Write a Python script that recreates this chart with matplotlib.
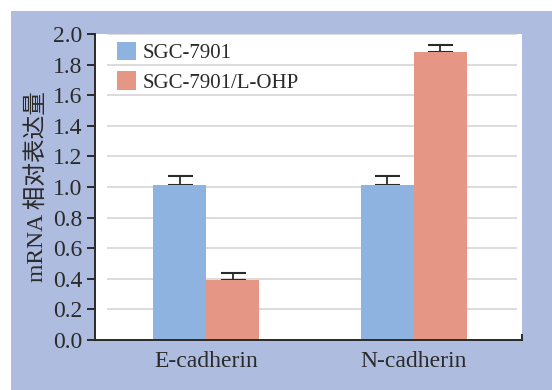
import matplotlib
matplotlib.use('Agg')
import matplotlib.pyplot as plt
import matplotlib.patches as mpatches
import numpy as np

## values
genes = ['E-cadherin', 'N-cadherin']
series = ['SGC-7901', 'SGC-7901/L-OHP']
sgc = [1.01, 1.01]
sgc_err = [0.06, 0.06]
lohp = [0.39, 1.88]
lohp_err = [0.045, 0.05]
yticks = [0.0, 0.2, 0.4, 0.6, 0.8, 1.0, 1.2, 1.4, 1.6, 1.8, 2.0]

blue = '#8EB3E0'
salmon = '#E69685'
panel = '#AEBCDF'
ink = '#2a2a2a'

plt.rcParams['font.family'] = ['Liberation Serif', 'Noto Sans CJK SC']

W, H = 552, 390
fig = plt.figure(figsize=(W/100, H/100), dpi=100)
fig.patch.set_facecolor('white')
## lavender panel behind the axes
fig.patches.append(mpatches.Rectangle((11/W, 0), 1, (H-11)/H, transform=fig.transFigure,
                                      facecolor=panel, edgecolor='none', zorder=-5))

ax = fig.add_axes([95/W, (H-340)/H, (522-95)/W, (340-34)/H])
ax.set_zorder(2)
ax.set_facecolor('white')

x = np.arange(len(genes))
w = 0.255
ekw = dict(ecolor=ink, elinewidth=1.3, capsize=9, capthick=1.5)
ax.bar(x - w/2, sgc, w, color=blue, label=series[0], zorder=2)
ax.errorbar(x - w/2, sgc, yerr=[[0]*2, sgc_err], fmt='none', zorder=1.5, **ekw)
ax.bar(x + w/2, lohp, w, color=salmon, label=series[1], zorder=2)
ax.errorbar(x + w/2, lohp, yerr=[[0]*2, lohp_err], fmt='none', zorder=1.5, **ekw)

ax.set_xlim(-0.534, 1.52)
ax.set_ylim(0, 2.0)
ax.set_yticks(yticks)
ax.set_yticklabels(['%.1f' % v for v in yticks], fontsize=17, color=ink)
ax.set_xticks(x)
ax.set_xticklabels(genes, fontsize=17, color=ink)
ax.tick_params(axis='x', length=0, pad=8)
ax.tick_params(axis='y', length=6, width=1.4, color=ink, pad=3)

## inset gridlines
ax.hlines(yticks[1:], 0.028, 0.989, transform=ax.get_yaxis_transform(),
          colors='#DCDCDC', linewidth=1.4, zorder=1)

for s in ['top', 'right']:
    ax.spines[s].set_visible(False)
for s in ['left', 'bottom']:
    ax.spines[s].set_color(ink)
    ax.spines[s].set_linewidth(1.4)
ax.plot([1, 1], [0, 0.015], transform=ax.transAxes, color=ink, lw=1.4, clip_on=False)

ax.set_ylabel('mRNA 相对表达量', fontsize=17, color=ink, labelpad=4)

leg = ax.legend(loc='upper left', bbox_to_anchor=(22/427, 0.975), frameon=False,
                fontsize=15, handlelength=0.9, handleheight=1.0, handletextpad=0.35,
                labelspacing=0.4, borderpad=0, borderaxespad=0)
for t in leg.get_texts():
    t.set_color(ink)

fig.savefig('out.png', dpi=100)
